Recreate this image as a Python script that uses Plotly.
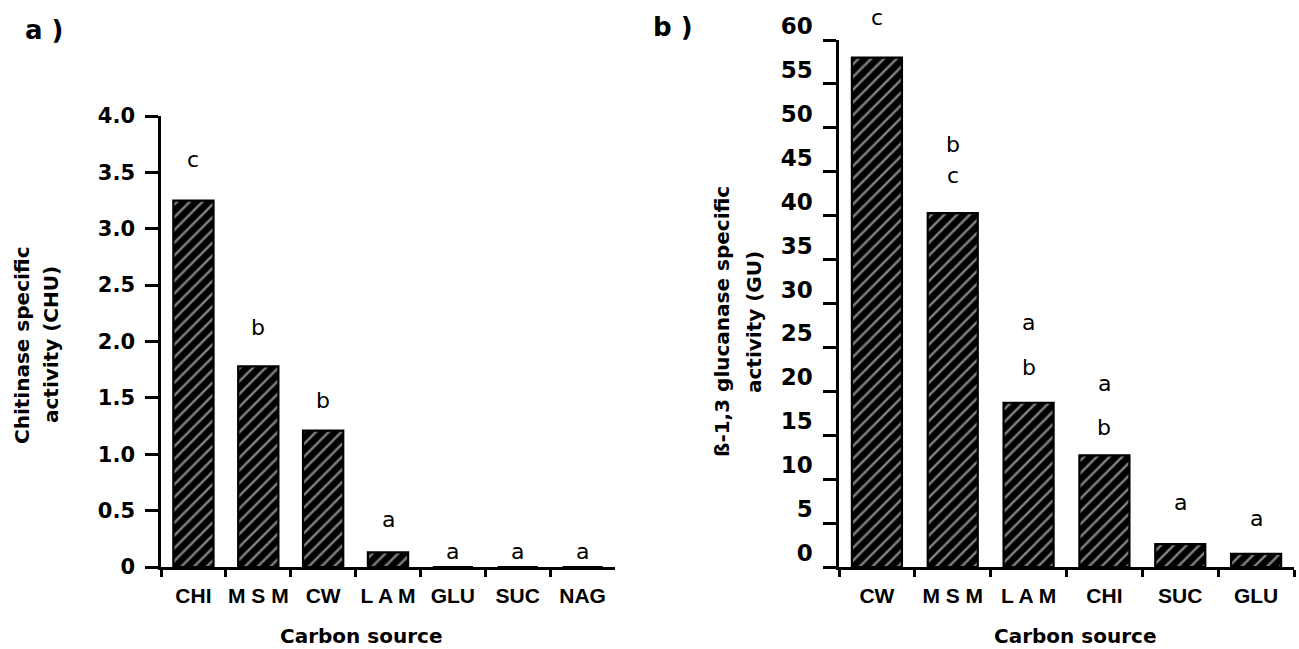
import plotly.graph_objects as go

W, H = 1299, 649


def px(x):
    return x / W


def py(y):
    return 1 - y / H


# ---- panel a) data ----
cats_a = ["CHI", "MSM", "CW", "LAM", "GLU", "SUC", "NAG"]
ticklab_a = ["CHI", "M S M", "CW", "L A M", "GLU", "SUC", "NAG"]
chitinase = [3.25, 1.78, 1.21, 0.13, 0.0, 0.0, 0.0]
letters_a = ["c", "b", "b", "a", "a", "a", "a"]
letter_y_a = [3.61, 2.12, 1.48, 0.42, 0.14, 0.14, 0.14]
ytick_a = [0, 0.5, 1.0, 1.5, 2.0, 2.5, 3.0, 3.5, 4.0]
ytick_lab_a = ["0", "0.5", "1.0", "1.5", "2.0", "2.5", "3.0", "3.5", "4.0"]
ymax_a = 4.0

# ---- panel b) data ----
cats_b = ["CW", "MSM", "LAM", "CHI", "SUC", "GLU"]
ticklab_b = ["CW", "M S M", "L A M", "CHI", "SUC", "GLU"]
glucanase = [58.0, 40.3, 18.7, 12.7, 2.6, 1.5]
letters_b = [["c"], ["b", "c"], ["a", "b"], ["a", "b"], ["a"], ["a"]]
letter_y_b = [[62.6], [48.1, 44.6], [27.8, 22.7], [20.9, 15.9], [7.3], [5.5]]
ytick_b = [0, 5, 10, 15, 20, 25, 30, 35, 40, 45, 50, 55, 60]
ytick_lab_b = ["0", "5", "10", "15", "20", "25", "30", "35", "40", "45", "50", "55", "60"]
ymax_b = 60

BOLD = dict(family="DejaVu Sans", weight="bold", color="black")
CAT = dict(family="Liberation Sans", weight="bold", size=21, color="black")
LET = dict(family="DejaVu Sans", size=22, color="black")

marker = dict(
    color="black",
    line=dict(color="black", width=2.2),
    pattern=dict(shape="/", bgcolor="black", fgcolor="white", size=9, solidity=0.28),
)

fig = go.Figure()
fig.add_trace(go.Bar(x=cats_a, y=chitinase, width=0.62, marker=marker,
                     xaxis="x", yaxis="y", showlegend=False))
fig.add_trace(go.Bar(x=cats_b, y=glucanase, width=0.66, marker=marker,
                     xaxis="x2", yaxis="y2", showlegend=False))

CENTER = dict(xanchor="center", yanchor="middle", showarrow=False)

annotations = []
for c, lab, yy in zip(cats_a, letters_a, letter_y_a):
    annotations.append(dict(CENTER, x=c, y=yy / ymax_a, xref="x", yref="y domain",
                            text=lab, font=LET))
for c, labs, ys in zip(cats_b, letters_b, letter_y_b):
    for lab, yy in zip(labs, ys):
        annotations.append(dict(CENTER, x=c, y=yy / ymax_b, xref="x2", yref="y2 domain",
                                text=lab, font=LET))

# titles
annotations += [
    dict(CENTER, x=px(44), y=py(30), xref="paper", yref="paper", text="a )",
         font=dict(BOLD, size=26)),
    dict(CENTER, x=px(673), y=py(27), xref="paper", yref="paper", text="b )",
         font=dict(BOLD, size=26)),
    dict(CENTER, x=px(361), y=py(636), xref="paper", yref="paper", text="Carbon source",
         font=dict(BOLD, size=20)),
    dict(CENTER, x=px(1075), y=py(636), xref="paper", yref="paper", text="Carbon source",
         font=dict(BOLD, size=20)),
    dict(CENTER, x=px(22), y=py(345), xref="paper", yref="paper", text="Chitinase specific",
         textangle=-90, font=dict(BOLD, size=20)),
    dict(CENTER, x=px(51), y=py(345), xref="paper", yref="paper", text="activity (CHU)",
         textangle=-90, font=dict(BOLD, size=20)),
    dict(CENTER, x=px(722), y=py(322), xref="paper", yref="paper",
         text="ß-1,3 glucanase specific", textangle=-90, font=dict(BOLD, size=20)),
    dict(CENTER, x=px(754), y=py(322), xref="paper", yref="paper", text="activity (GU)",
         textangle=-90, font=dict(BOLD, size=20)),
]

xcommon = dict(showline=True, linecolor="black", linewidth=2.5, ticks="outside",
               ticklen=7, tickwidth=2.5, tickcolor="black", tickson="boundaries",
               tickfont=CAT, showgrid=False, zeroline=False, ticklabelstandoff=8,
               tickangle=0, automargin=False, fixedrange=True)
ycommon = dict(showline=True, linecolor="black", linewidth=2.5, ticks="outside",
               ticklen=13, tickwidth=2.5, tickcolor="black", showgrid=False,
               zeroline=False, tickmode="array", automargin=False, fixedrange=True)

fig.update_layout(
    width=W, height=H, autosize=False,
    margin=dict(l=0, r=0, t=0, b=0, pad=0, autoexpand=False),
    paper_bgcolor="white", plot_bgcolor="white",
    bargap=0.3,
    xaxis=dict(xcommon, domain=[px(161), px(615)], anchor="y",
               tickmode="array", tickvals=cats_a, ticktext=ticklab_a),
    yaxis=dict(ycommon, domain=[py(567), py(116)], anchor="x", range=[0, ymax_a],
               tickvals=ytick_a, ticktext=ytick_lab_a,
               tickfont=dict(BOLD, size=21), ticklabelstandoff=6),
    xaxis2=dict(xcommon, domain=[px(839), px(1294)], anchor="y2",
                tickmode="array", tickvals=cats_b, ticktext=ticklab_b),
    yaxis2=dict(ycommon, domain=[py(567), py(40)], anchor="x2", range=[0, ymax_b],
                tickvals=ytick_b, ticktext=ytick_lab_b,
                tickfont=dict(BOLD, size=23), ticklabelstandoff=6,
                ticklabelshift=-14),
    annotations=annotations,
)

fig.write_html("out.html")
